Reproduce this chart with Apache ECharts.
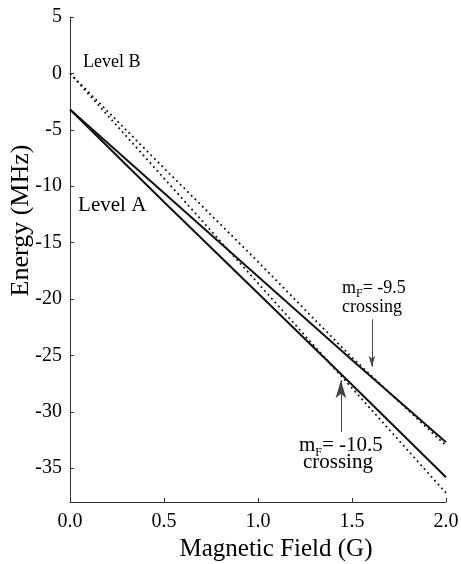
<!DOCTYPE html>
<html>
<head>
<meta charset="utf-8">
<script src="https://cdn.jsdelivr.net/npm/echarts@6/dist/echarts.min.js"></script>
<style>
  html, body { margin: 0; padding: 0; background: #fff; }
  #main { width: 461px; height: 564px; }
</style>
</head>
<body>
<div id="main"></div>
<script>
var field = [0, 0.5, 1.0, 1.5, 2.0];
var levelA1 = [-3.2, -10.6, -18.0, -25.4, -32.7];
var levelA2 = [-3.2, -11.4, -19.5, -27.6, -35.8];
var levelB1 = [0, -8.4, -16.7, -25.2, -33.0];
var levelB2 = [0, -9.3, -18.6, -27.9, -37.2];
var yTicks = [5, 0, -5, -10, -15, -20, -25, -30, -35];

var serif = 'Liberation Serif';

function pairs(ys) {
    return field.map(function (x, i) { return [x, ys[i]]; });
}

var myChart = echarts.init(document.getElementById('main'));

var solid = { color: '#111', width: 2 };
var dotted = { color: '#111', width: 1.8, type: [1.8, 3.4] };

// text notes in data coords
var notes = [
    { value: [0.069, 1.0], text: '{t|Level B}', size: 18 },
    { value: [0.043, -11.7], text: '{t|Level A}', size: 21 },
    { value: [1.447, -19.05], text: '{t|m}{s|F}{t|= -9.5}', size: 18 },
    { value: [1.447, -20.7], text: '{t|crossing}', size: 18 },
    { value: [1.218, -33.0], text: '{t|m}{s|F}{t|= -10.5}', size: 21 },
    { value: [1.239, -34.5], text: '{t|crossing}', size: 21 }
];

myChart.setOption({
    backgroundColor: '#fff',
    animation: false,
    grid: { left: 70, right: 15, top: 17, bottom: 62, containLabel: false, outerBoundsMode: 'none' },
    xAxis: {
        type: 'value',
        min: 0,
        max: 2,
        interval: 0.5,
        name: 'Magnetic Field (G)',
        nameLocation: 'middle',
        nameGap: 34,
        nameTextStyle: { fontFamily: serif, fontSize: 25, color: '#000', padding: [0, 0, 0, 36] },
        axisLine: { onZero: false, lineStyle: { color: '#333', width: 1 } },
        axisTick: { inside: true, length: 4, lineStyle: { color: '#333' } },
        axisLabel: {
            margin: 10,
            fontFamily: serif, fontSize: 20, color: '#000',
            formatter: function (v) { return v.toFixed(1); }
        },
        splitLine: { show: false }
    },
    yAxis: {
        type: 'value',
        min: -38,
        max: 5,
        name: 'Energy (MHz)',
        nameLocation: 'middle',
        nameGap: 36,
        nameMoveOverlap: false,
        nameTextStyle: { fontFamily: serif, fontSize: 26, color: '#000', padding: [0, 0, 0, 78] },
        axisLine: { show: true, onZero: false, lineStyle: { color: '#333', width: 1 } },
        axisTick: { show: true, inside: true, length: 4, customValues: yTicks, lineStyle: { color: '#333' } },
        axisLabel: { margin: 8, fontFamily: serif, fontSize: 20, color: '#000', customValues: yTicks },
        splitLine: { show: false }
    },
    series: [
        { type: 'line', data: pairs(levelA1), symbol: 'none', lineStyle: solid, silent: true, z: 3 },
        { type: 'line', data: pairs(levelA2), symbol: 'none', lineStyle: solid, silent: true, z: 3 },
        { type: 'line', data: pairs(levelB1), symbol: 'none', lineStyle: dotted, silent: true, z: 2 },
        { type: 'line', data: pairs(levelB2), symbol: 'none', lineStyle: dotted, silent: true, z: 2,
          markLine: {
              silent: true,
              label: { show: false },
              lineStyle: { color: '#444', width: 1, type: 'solid' },
              data: [
                  [{ coord: [1.606, -21.8], symbol: 'none' },
                   { coord: [1.606, -26.0], symbol: 'arrow', symbolSize: [5, 11] }],
                  [{ coord: [1.441, -31.8], symbol: 'none' },
                   { coord: [1.441, -27.2], symbol: 'arrow', symbolSize: [8, 18] }]
              ]
          }
        },
        {
            type: 'scatter',
            symbolSize: 0,
            silent: true,
            itemStyle: { opacity: 1 },
            data: notes.map(function (n) {
                return {
                    value: n.value,
                    label: {
                        show: true,
                        position: [0, 0],
                        align: 'left',
                        verticalAlign: 'middle',
                        color: '#000',
                        formatter: n.text,
                        rich: {
                            t: { fontFamily: serif, fontSize: n.size, color: '#000', lineHeight: n.size + 6, verticalAlign: 'middle' },
                            s: { fontFamily: serif, fontSize: 12, color: '#000', lineHeight: 12, verticalAlign: 'bottom' }
                        }
                    }
                };
            })
        }
    ]
});
</script>
</body>
</html>
